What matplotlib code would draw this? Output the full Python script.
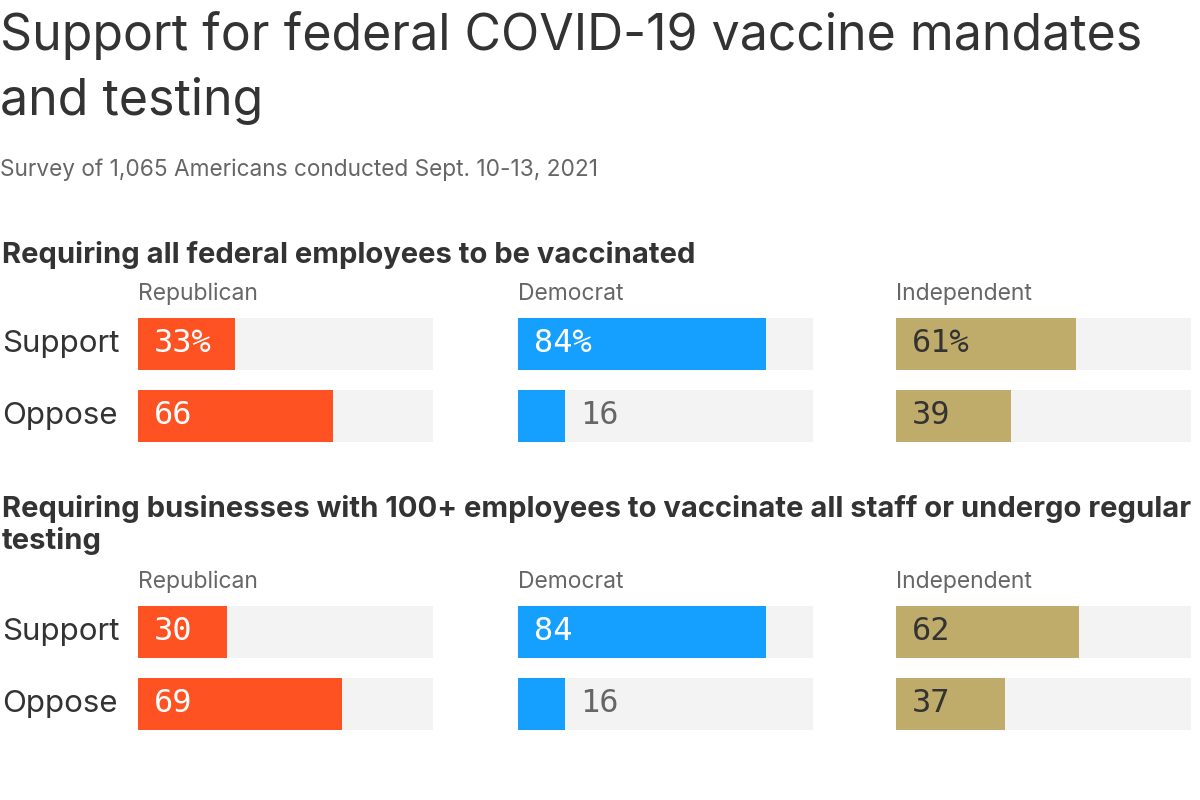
import matplotlib.pyplot as plt

W, H = 1200, 800

title = "Support for federal COVID-19 vaccine mandates\nand testing"
subtitle = "Survey of 1,065 Americans conducted Sept. 10-13, 2021"

questions = [
    "Requiring all federal employees to be vaccinated",
    "Requiring businesses with 100+ employees to vaccinate all staff or undergo regular\ntesting",
]
parties = ["Republican", "Democrat", "Independent"]
answers = ["Support", "Oppose"]

# [question][party] -> [support, oppose]
values = [
    [[33, 66], [84, 16], [61, 39]],
    [[30, 69], [84, 16], [62, 37]],
]

colors = {"Republican": "#ff5222", "Democrat": "#15a0ff", "Independent": "#bfac6b"}
inside_text = {"Republican": "white", "Democrat": "white", "Independent": "#333333"}
track = "#f3f3f3"

plt.rcParams['font.family'] = ['Inter', 'DejaVu Sans']

fig = plt.figure(figsize=(12, 8), dpi=100)
fig.patch.set_facecolor("white")


def fx(px):
    return px / W


def fy(py):
    return 1 - py / H


fig.text(fx(0), fy(36), title.split("\n")[0], fontsize=36, color="#333333",
         va="center", ha="left")
fig.text(fx(0), fy(101), title.split("\n")[1], fontsize=36, color="#333333",
         va="center", ha="left")
fig.text(fx(0), fy(170), subtitle, fontsize=16.3, color="#666666", va="center")

panel_left = [138, 518, 896]
panel_w = 295
section_top = [241, 495]
bars_top = [318, 606]
header_y = [294, 582]
row_pitch = 72
bar_h = 52

for q, question in enumerate(questions):
    fig.text(fx(2), fy(section_top[q]), question, fontsize=21, fontweight="bold",
             color="#333333", va="top", ha="left", linespacing=1.2)
    for r, ans in enumerate(answers):
        yc = bars_top[q] + r * row_pitch + bar_h / 2
        fig.text(fx(2), fy(yc), ans, fontsize=22.5, color="#333333", va="center")
    for p, party in enumerate(parties):
        fig.text(fx(panel_left[p]), fy(header_y[q]), party, fontsize=16.5,
                 color="#666666", va="center")
        ax = fig.add_axes([fx(panel_left[p]), fy(bars_top[q] + row_pitch + bar_h),
                           fx(panel_w), (row_pitch + bar_h) / H])
        hh = bar_h / row_pitch
        ys = list(range(len(answers)))
        ax.barh(ys, [100] * len(ys), height=hh, color=track, zorder=1)
        ax.barh(ys, values[q][p], height=hh, color=colors[party], zorder=2)
        ax.set_xlim(0, 100)
        ax.set_ylim(len(ys) - 1 + hh / 2, -hh / 2)
        ax.axis("off")
        for r, v in enumerate(values[q][p]):
            label = f"{v}%" if (q == 0 and r == 0) else f"{v}"
            if v >= 25:
                ax.text(5.5, r, label, fontsize=23, family="DejaVu Sans Mono",
                        color=inside_text[party], va="center", ha="left", zorder=3)
            else:
                ax.text(v + 5.2, r, label, fontsize=23, family="DejaVu Sans Mono",
                        color="#666666", va="center", ha="left", zorder=3)

fig.savefig("out.png", dpi=100, facecolor="white")
